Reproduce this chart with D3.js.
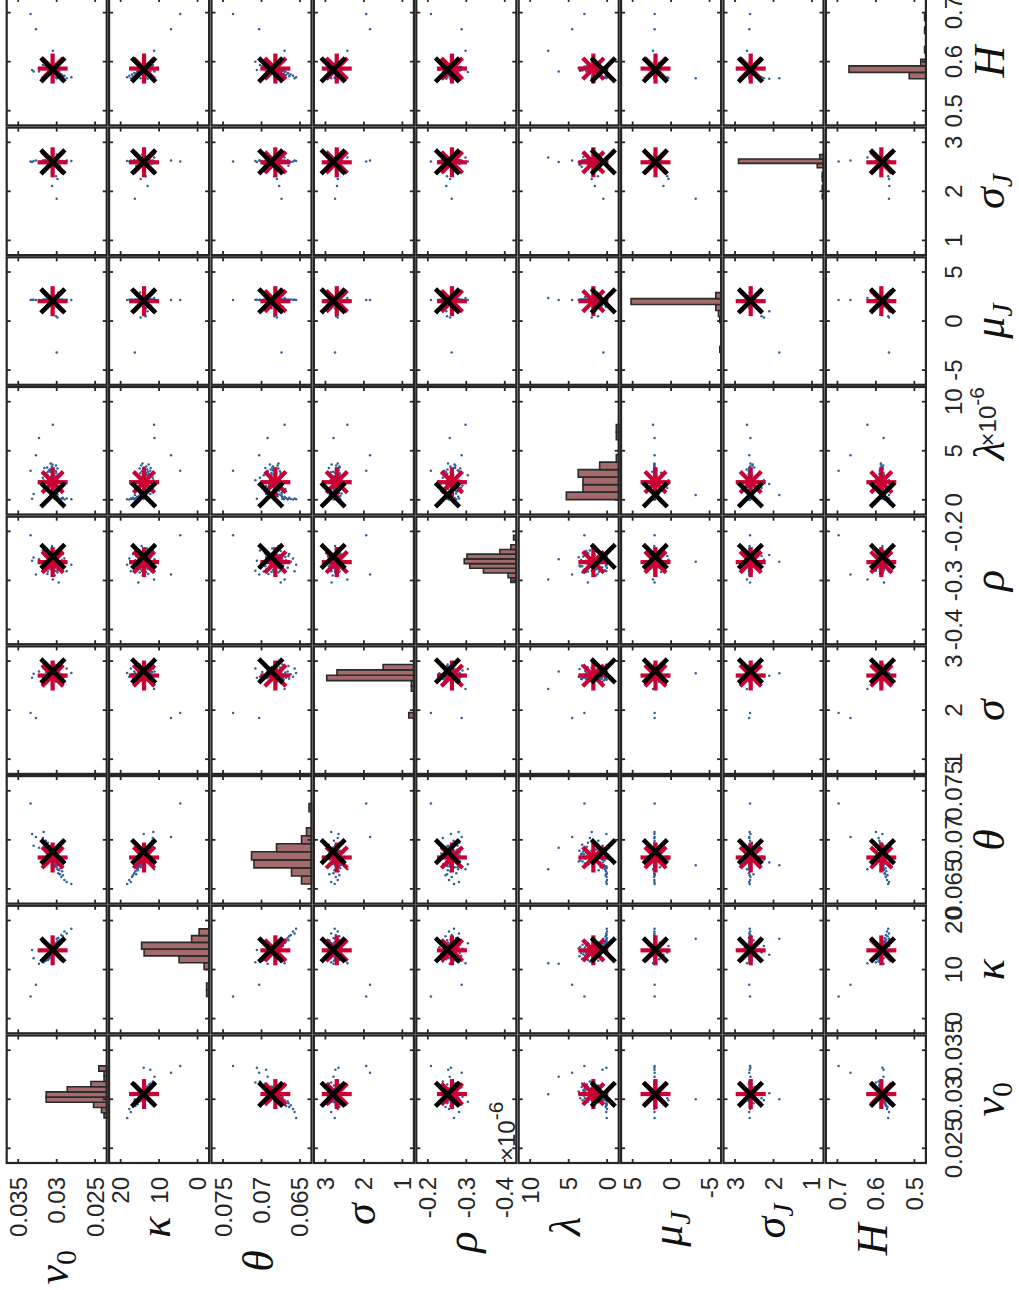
<!DOCTYPE html>
<html>
<head>
<meta charset="utf-8">
<script src="https://cdn.jsdelivr.net/npm/d3@7"></script>
<style>
  html, body { margin: 0; padding: 0; background: #ffffff; }
  svg { display: block; }
</style>
</head>
<body>
<svg id="chart" width="1019" height="1290"></svg>
<script>
// ---------------------------------------------------------------
// Monte Carlo calibration results: scatter-plot matrix of the nine
// model parameters (diagonal: histograms with 10 bins).
// lambda is stored in units of 1e-6.
// ---------------------------------------------------------------

const paramKeys = ["v0", "kappa", "theta", "sigma", "rho", "lambda", "muJ", "sigmaJ", "H"];

// axis limits of every parameter
const axisLimits = [
  [0.0235, 0.0365], [-3, 23], [0.0635, 0.0765], [0.7, 3.3], [-0.43, -0.17],
  [-1.5, 11.5], [-6.5, 6.5], [0.7, 3.3], [0.47, 0.73]
];
const tickValues = [
  [0.025, 0.03, 0.035], [0, 10, 20], [0.065, 0.07, 0.075], [1, 2, 3], [-0.4, -0.3, -0.2],
  [0, 5, 10], [-5, 0, 5], [1, 2, 3], [0.5, 0.6, 0.7]
];
const tickLabels = [
  ["0.025", "0.03", "0.035"], ["0", "10", "20"], ["0.065", "0.07", "0.075"], ["1", "2", "3"],
  ["-0.4", "-0.3", "-0.2"], ["0", "5", "10"], ["-5", "0", "5"], ["1", "2", "3"], ["0.5", "0.6", "0.7"]
];
// true parameter values (black cross)
const trueValues = [0.0305, 14.0, 0.0688, 2.80, -0.251, 0.5, 2.05, 2.60, 0.583];
// upper limit of the count axis of each histogram
const histCountLimit = [38, 40, 40, 39, 36.5, 42, 75.5, 80, 78];

// estimated parameters, one entry per Monte Carlo run
const v0 = [
  0.0281, 0.0290, 0.0287, 0.0294, 0.0292, 0.0298, 0.0293, 0.0296, 0.0299, 0.0295,
  0.0297, 0.0300, 0.02975, 0.0302, 0.0298, 0.0304, 0.02985, 0.0299, 0.0303, 0.0298,
  0.03005, 0.0299, 0.0305, 0.02995, 0.0301, 0.0300, 0.0306, 0.0301, 0.0303, 0.0300,
  0.03015, 0.0308, 0.0301, 0.03025, 0.0302, 0.0304, 0.0304, 0.0305, 0.03035, 0.0310,
  0.03125, 0.0312, 0.03045, 0.0307, 0.0303, 0.0309, 0.0305, 0.03055, 0.0311, 0.03045,
  0.0306, 0.0308, 0.03065, 0.0313, 0.0309, 0.03095, 0.0306, 0.03085, 0.0312, 0.03055,
  0.0315, 0.0310, 0.0307, 0.03105, 0.0316, 0.0311, 0.03115, 0.0314, 0.0318, 0.0317,
  0.0334, 0.0327, 0.0305, 0.0300, 0.0301, 0.0299, 0.0306, 0.0323, 0.0332, 0.0330
];
const kappa = [
  18.30, 17.75, 17.35, 17.05, 16.80, 16.45, 16.15, 15.95, 15.75, 15.60,
  15.50, 15.45, 15.38, 15.30, 15.25, 15.18, 15.12, 15.05, 15.00, 14.95,
  14.90, 14.84, 14.78, 14.72, 14.66, 14.60, 14.55, 14.50, 14.45, 14.40,
  14.36, 14.32, 14.28, 14.24, 14.20, 14.17, 14.12, 14.08, 14.03, 13.98,
  13.92, 13.86, 13.80, 13.74, 13.68, 13.62, 13.56, 13.50, 13.44, 13.38,
  13.32, 13.26, 13.20, 13.14, 13.08, 13.02, 12.95, 12.88, 12.82, 12.72,
  12.62, 12.52, 12.42, 12.30, 12.20, 12.08, 11.95, 11.80, 11.65, 11.50,
  4.5, 6.9, 11.3, 16.3, 13.5, 14.8, 13.0, 11.2, 14.0, 12.3
];
const theta = [
  0.0655, 0.0659, 0.0657, 0.0662, 0.0664, 0.0666, 0.0668, 0.0665, 0.0670, 0.0671,
  0.0669, 0.0672, 0.0675, 0.0673, 0.0677, 0.0674, 0.0676, 0.0678, 0.0673, 0.0679,
  0.0675, 0.0677, 0.0672, 0.0676, 0.0679, 0.0674, 0.0678, 0.0676, 0.0679, 0.0677,
  0.0675, 0.0678, 0.0680, 0.0682, 0.0681, 0.0684, 0.0683, 0.0680, 0.0685, 0.0682,
  0.0686, 0.0681, 0.0684, 0.0687, 0.0683, 0.0685, 0.0682, 0.0686, 0.0684, 0.0687,
  0.0685, 0.0683, 0.0686, 0.0687, 0.0688, 0.0690, 0.0689, 0.0692, 0.0691, 0.0689,
  0.0693, 0.0690, 0.0694, 0.0692, 0.0695, 0.0693, 0.0697, 0.0699, 0.0702, 0.0708,
  0.0737, 0.0703, 0.0670, 0.0674, 0.0683, 0.0680, 0.0677, 0.0692, 0.0706, 0.0694
];
const sigma = [
  2.76, 2.68, 2.85, 2.73, 2.64, 2.79, 2.66, 2.90, 2.73, 2.62,
  2.77, 2.69, 2.84, 2.65, 2.74, 2.61, 2.80, 2.67, 2.93, 2.70,
  2.63, 2.78, 2.66, 2.87, 2.72, 2.64, 2.75, 2.69, 2.82, 2.62,
  2.76, 2.68, 2.58, 2.81, 2.70, 2.65, 2.77, 2.89, 2.67, 2.74,
  2.63, 2.86, 2.75, 2.79, 2.66, 2.72, 2.61, 2.83, 2.68, 2.75,
  2.64, 2.78, 2.70, 2.88, 2.67, 2.73, 2.62, 2.80, 2.69, 2.84,
  2.65, 2.76, 2.74, 2.66, 2.91, 2.74, 2.63, 2.78, 2.68, 2.85,
  1.94, 1.84, 2.43, 2.75, 2.72, 2.68, 2.70, 2.79, 2.66, 2.74
];
const rho = [
  -0.268, -0.255, -0.281, -0.262, -0.246, -0.274, -0.259, -0.250, -0.279, -0.265,
  -0.252, -0.270, -0.304, -0.257, -0.2745, -0.248, -0.263, -0.284, -0.2515, -0.269,
  -0.240, -0.2605, -0.277, -0.254, -0.2715, -0.2645, -0.230, -0.2805, -0.249, -0.266,
  -0.258, -0.2525, -0.273, -0.290, -0.261, -0.244, -0.2675, -0.2565, -0.278, -0.2485,
  -0.2705, -0.260, -0.2825, -0.253, -0.275, -0.2625, -0.245, -0.2685, -0.2545, -0.283,
  -0.2585, -0.272, -0.235, -0.2665, -0.251, -0.2765, -0.264, -0.247, -0.287, -0.2695,
  -0.2505, -0.2575, -0.2775, -0.242, -0.271, -0.2475, -0.282, -0.267, -0.239, -0.280,
  -0.208, -0.288, -0.298, -0.262, -0.250, -0.258, -0.248, -0.257, -0.260, -0.253
];
const lambda = [
  0.05, 0.02, 0.12, 0.08, 0.20, 0.04, 0.15, 0.10, 0.30, 0.06,
  1.10, 0.18, 2.50, 0.25, 0.90, 0.40, 1.80, 3.20, 0.10, 1.30,
  2.70, 0.55, 0.85, 2.00, 3.50, 0.70, 1.60, 2.90, 0.35, 1.00,
  2.40, 3.70, 0.65, 1.45, 2.20, 2.60, 1.20, 0.50, 3.00, 1.90,
  3.30, 2.80, 1.05, 2.35, 1.70, 3.05, 2.45, 1.35, 2.10, 2.75,
  3.40, 0.95, 1.65, 2.55, 3.10, 1.50, 2.05, 2.85, 1.25, 3.60,
  2.65, 1.85, 1.40, 2.95, 3.25, 1.75, 2.50, 1.15, 2.25, 2.00,
  2.96, 4.55, 7.66, 0.50, 1.20, 2.00, 1.60, 6.30, 0.10, 0.60
];
const muJ = [
  2.15, 2.18, 2.16, 2.19, 2.14, 2.17, 2.20, 2.16, 2.18, 2.13,
  2.17, 1.45, 2.15, 2.19, 2.16, 2.21, 2.17, 2.14, 2.18, 2.90,
  2.16, 2.19, 2.15, 2.17, 2.20, 2.13, 2.18, 2.16, 2.19, 2.17,
  2.14, 2.18, 1.60, 2.16, 2.20, 2.15, 2.17, 2.19, 2.13, 2.18,
  2.16, 2.21, 2.15, 2.17, 2.60, 2.19, 2.14, 2.18, 2.16, 1.30,
  2.17, 2.15, 2.20, 2.16, 2.18, 2.14, 2.19, 2.45, 2.17, 2.15,
  2.18, 2.16, 2.20, 2.13, 2.17, 1.55, 2.19, 2.15, 2.18, 2.16,
  2.14, 2.14, 2.35, -3.20, 0.50, 0.35, 1.00, 2.15, 2.17, 2.16
];
const sigmaJ = [
  2.62, 2.61, 2.63, 2.60, 2.62, 2.64, 2.61, 2.52, 2.63, 2.62,
  2.60, 2.63, 2.61, 2.62, 2.64, 2.60, 2.62, 2.63, 2.61, 2.62,
  2.63, 2.60, 2.62, 2.61, 2.55, 2.63, 2.62, 2.64, 2.61, 2.75,
  2.62, 2.60, 2.63, 2.61, 2.62, 2.64, 2.60, 2.62, 2.63, 2.61,
  2.50, 2.62, 2.63, 2.60, 2.62, 2.61, 2.64, 2.62, 2.60, 2.63,
  2.61, 2.62, 2.63, 2.60, 2.70, 2.62, 2.61, 2.63, 2.62, 2.54,
  2.64, 2.60, 2.62, 2.61, 2.63, 2.62, 2.56, 2.61, 2.63, 2.62,
  2.61, 2.63, 2.69, 1.85, 2.31, 2.25, 2.11, 2.60, 2.60, 2.62
];
const hurst = [
  0.568, 0.571, 0.566, 0.574, 0.570, 0.577, 0.573, 0.576, 0.579, 0.575,
  0.580, 0.582, 0.579, 0.581, 0.580, 0.583, 0.579, 0.582, 0.581, 0.584,
  0.580, 0.583, 0.582, 0.585, 0.581, 0.584, 0.583, 0.586, 0.582, 0.585,
  0.583, 0.587, 0.584, 0.586, 0.582, 0.585, 0.588, 0.584, 0.586, 0.583,
  0.587, 0.585, 0.589, 0.584, 0.586, 0.588, 0.585, 0.587, 0.590, 0.586,
  0.584, 0.588, 0.587, 0.589, 0.586, 0.590, 0.588, 0.585, 0.589, 0.587,
  0.591, 0.594, 0.588, 0.590, 0.586, 0.597, 0.589, 0.591, 0.593, 0.600,
  0.697, 0.666, 0.622, 0.566, 0.568, 0.566, 0.565, 0.580, 0.583, 0.580
];

const samples = [v0, kappa, theta, sigma, rho, lambda, muJ, sigmaJ, hurst];
const nParams = samples.length;
const sampleMeans = samples.map(s => d3.mean(s));

// ---------------- layout (drawn upright, then turned a quarter left) ----------
const frameW = 1290;
const gridLeft = 127, colPitch = 129.7, cellW = 127.5;
const gridTop = 6.7, rowPitch = 102.4, cellH = 100;
const tickLen = 4;

const ink = "#262626";
const dotColor = "#2f609e";
const meanColor = "#cc0033";
const histFill = "#a36b6b";
const tickFont = "'Liberation Sans', Arial, Helvetica, sans-serif";
const mathFont = "'Liberation Serif', 'Times New Roman', serif";
const tickSize = 24;

const svg = d3.select("#chart");
const frame = svg.append("g").attr("transform", `translate(0,${frameW}) rotate(-90)`);

function cellX(j) { return gridLeft + j * colPitch; }
function cellY(i) { return gridTop + i * rowPitch; }
function xScale(j) {
  const x0 = cellX(j);
  return d3.scaleLinear().domain(axisLimits[j]).range([x0, x0 + cellW]);
}
function yScale(i) {
  const y0 = cellY(i);
  return d3.scaleLinear().domain(axisLimits[i]).range([y0 + cellH, y0]);
}

// asterisk marker (plus and cross overlaid)
function drawAsterisk(g, cx, cy) {
  const r = 15, d = r * Math.SQRT1_2;
  const segs = [[-r, 0, r, 0], [0, -r, 0, r], [-d, -d, d, d], [-d, d, d, -d]];
  g.selectAll(null).data(segs).enter().append("line")
    .attr("x1", s => cx + s[0]).attr("y1", s => cy + s[1])
    .attr("x2", s => cx + s[2]).attr("y2", s => cy + s[3])
    .attr("stroke", meanColor).attr("stroke-width", 4.2).attr("stroke-linecap", "butt");
}
function drawCross(g, cx, cy) {
  const r = 12;
  const segs = [[-r, -r, r, r], [-r, r, r, -r]];
  g.selectAll(null).data(segs).enter().append("line")
    .attr("x1", s => cx + s[0]).attr("y1", s => cy + s[1])
    .attr("x2", s => cx + s[2]).attr("y2", s => cy + s[3])
    .attr("stroke", "#000").attr("stroke-width", 4.6).attr("stroke-linecap", "butt");
}

// 10 equal-width bins between the sample minimum and maximum
function histBins(values) {
  const lo = d3.min(values), hi = d3.max(values);
  const w = (hi - lo) / 10;
  const counts = new Array(10).fill(0);
  values.forEach(v => {
    let k = Math.floor((v - lo) / w);
    if (k > 9) k = 9;
    if (k < 0) k = 0;
    counts[k] += 1;
  });
  return counts.map((c, k) => ({ x0: lo + k * w, x1: lo + (k + 1) * w, count: c }));
}

for (let i = 0; i < nParams; i++) {
  for (let j = 0; j < nParams; j++) {
    const g = frame.append("g").attr("class", `cell r${i} c${j}`);
    const xs = xScale(j), ys = yScale(i);
    const x0 = cellX(j), y0 = cellY(i);

    if (i === j) {
      const bins = histBins(samples[i]);
      const cs = d3.scaleLinear().domain([0, histCountLimit[i]]).range([y0 + cellH, y0]);
      g.selectAll("path.bar").data(bins).enter().append("path")
        .attr("class", "bar")
        .attr("d", b => {
          const a = xs(b.x0), c = xs(b.x1), top = cs(b.count), base = cs(0);
          return `M${a},${base}V${top}H${c}V${base}Z`;
        })
        .attr("fill", histFill)
        .attr("stroke", "#2a2a2a").attr("stroke-width", 1.6);
    } else {
      const pts = d3.range(samples[0].length);
      g.selectAll("circle").data(pts).enter().append("circle")
        .attr("cx", k => xs(samples[j][k]))
        .attr("cy", k => ys(samples[i][k]))
        .attr("r", 1.25)
        .attr("fill", dotColor);
      drawAsterisk(g, xs(sampleMeans[j]), ys(sampleMeans[i]));
      drawCross(g, xs(trueValues[j]), ys(trueValues[i]));
    }

    // ticks on all four sides
    tickValues[j].forEach(t => {
      const x = xs(t);
      g.append("line").attr("x1", x).attr("x2", x).attr("y1", y0 + cellH).attr("y2", y0 + cellH - tickLen)
        .attr("stroke", ink).attr("stroke-width", 1.8);
      g.append("line").attr("x1", x).attr("x2", x).attr("y1", y0).attr("y2", y0 + tickLen)
        .attr("stroke", ink).attr("stroke-width", 1.8);
    });
    tickValues[i].forEach(t => {
      const y = ys(t);
      g.append("line").attr("x1", x0).attr("x2", x0 + tickLen).attr("y1", y).attr("y2", y)
        .attr("stroke", ink).attr("stroke-width", 1.8);
      g.append("line").attr("x1", x0 + cellW).attr("x2", x0 + cellW - tickLen).attr("y1", y).attr("y2", y)
        .attr("stroke", ink).attr("stroke-width", 1.8);
    });

    g.append("rect").attr("x", x0).attr("y", y0).attr("width", cellW).attr("height", cellH)
      .attr("fill", "none").attr("stroke", ink).attr("stroke-width", 2.2);
  }
}

// ---------------- tick labels ----------------
const labelLayer = frame.append("g").attr("font-family", tickFont).attr("font-size", tickSize).attr("fill", ink);
const yTickWidths = [];
for (let i = 0; i < nParams; i++) {
  const ys = yScale(i);
  let maxW = 0;
  tickValues[i].forEach((t, k) => {
    const txt = labelLayer.append("text")
      .attr("x", 113).attr("y", ys(t) + 8.5)
      .attr("text-anchor", "end")
      .text(tickLabels[i][k]);
    maxW = Math.max(maxW, txt.node().getComputedTextLength());
  });
  yTickWidths.push(maxW);
}
const bottomY = cellY(nParams - 1) + cellH;
for (let j = 0; j < nParams; j++) {
  const xs = xScale(j);
  tickValues[j].forEach((t, k) => {
    labelLayer.append("text")
      .attr("x", xs(t)).attr("y", bottomY + 36)
      .attr("text-anchor", "middle")
      .text(tickLabels[j][k]);
  });
}

// exponent notes for lambda (units of 1e-6)
function exponentNote(x, y, anchor) {
  const t = labelLayer.append("text").attr("x", x).attr("y", y).attr("text-anchor", anchor);
  t.append("tspan").text("\u00d710");
  t.append("tspan").attr("dy", -12).attr("font-size", 21).text("-6");
  return t;
}
exponentNote(gridLeft + 2, cellY(5) - 4, "start");
exponentNote(cellX(5) + cellW, bottomY + 70, "end");

// ---------------- parameter labels ----------------
const paramLabels = [
  { base: "v", sub: "0", subItalic: false },
  { base: "\u03ba" },
  { base: "\u03b8" },
  { base: "\u03c3" },
  { base: "\u03c1" },
  { base: "\u03bb" },
  { base: "\u03bc", sub: "J", subItalic: true },
  { base: "\u03c3", sub: "J", subItalic: true },
  { base: "H" }
];
function mathText(parent, lab, x, y, anchor) {
  const t = parent.append("text")
    .attr("x", x).attr("y", y)
    .attr("text-anchor", anchor)
    .attr("font-family", mathFont)
    .attr("font-size", 44)
    .attr("fill", "#111");
  t.append("tspan").attr("font-style", "italic").text(lab.base);
  if (lab.sub) {
    t.append("tspan")
      .attr("dy", 8)
      .attr("font-size", 30)
      .attr("font-style", lab.subItalic ? "italic" : "normal")
      .text(lab.sub);
  }
  return t;
}
const nameLayer = frame.append("g");
for (let i = 0; i < nParams; i++) {
  const cy = cellY(i) + cellH / 2;
  mathText(nameLayer, paramLabels[i], 113 - yTickWidths[i] - 13, cy + 11, "end");
}
for (let j = 0; j < nParams; j++) {
  const cx = cellX(j) + cellW / 2;
  mathText(nameLayer, paramLabels[j], cx, bottomY + 78, "middle");
}
</script>
</body>
</html>
